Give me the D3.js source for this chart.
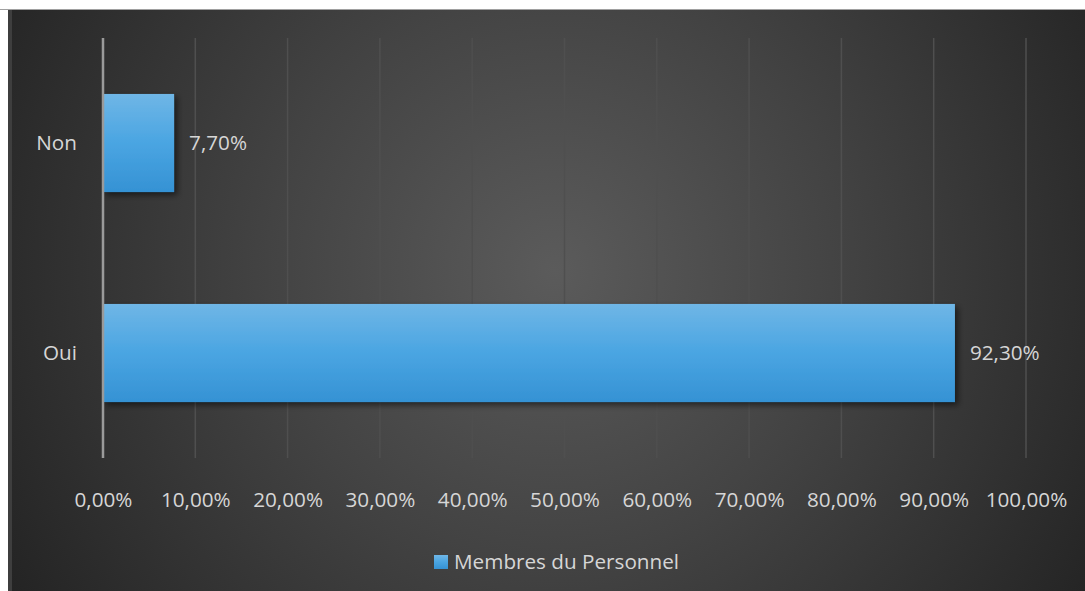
<!DOCTYPE html>
<html>
<head>
<meta charset="utf-8">
<script src="https://cdn.jsdelivr.net/npm/d3@7"></script>
<style>
  html, body { margin: 0; padding: 0; background: #ffffff; }
  svg { display: block; }
</style>
</head>
<body>
<svg id="chart" width="1085" height="591"></svg>
<script>
// Survey answers for staff members
const categories = ["Non", "Oui"];
const values = [7.7, 92.3];
const valueLabels = ["7,70%", "92,30%"];
const tickValues = [0, 10, 20, 30, 40, 50, 60, 70, 80, 90, 100];
const tickLabels = ["0,00%", "10,00%", "20,00%", "30,00%", "40,00%", "50,00%", "60,00%", "70,00%", "80,00%", "90,00%", "100,00%"];
const seriesName = "Membres du Personnel";

const W = 1085, H = 591;
const svg = d3.select("#chart");
const font = "'Open Sans', sans-serif";
const fontSize = 20.7;
const textColor = "#d6d6d6";

const defs = svg.append("defs");
const bg = defs.append("radialGradient").attr("id", "bgGrad")
  .attr("gradientUnits", "userSpaceOnUse")
  .attr("cx", 555).attr("cy", 270).attr("r", 640);
bg.append("stop").attr("offset", "0").attr("stop-color", "#5b5b5b");
bg.append("stop").attr("offset", "0.45").attr("stop-color", "#434343");
bg.append("stop").attr("offset", "1").attr("stop-color", "#232323");

const barGrad = defs.append("linearGradient").attr("id", "barGrad")
  .attr("x1", 0).attr("y1", 0).attr("x2", 0).attr("y2", 1);
barGrad.append("stop").attr("offset", "0").attr("stop-color", "#6fb6e6");
barGrad.append("stop").attr("offset", "0.5").attr("stop-color", "#4aa5e2");
barGrad.append("stop").attr("offset", "1").attr("stop-color", "#3592d4");

const shadow = defs.append("filter").attr("id", "shadow")
  .attr("x", "-10%").attr("y", "-10%").attr("width", "130%").attr("height", "140%");
shadow.append("feDropShadow").attr("dx", 3).attr("dy", 3).attr("stdDeviation", 3)
  .attr("flood-color", "#000").attr("flood-opacity", 0.55);

// Chart area background and frame
svg.append("rect").attr("x", 0).attr("y", 9).attr("width", W).attr("height", 1).attr("fill", "#a0a0a0");
svg.append("rect").attr("x", 8).attr("y", 10).attr("width", W - 8).attr("height", H - 10).attr("fill", "#3e3e3e");
svg.append("rect").attr("x", 12).attr("y", 10).attr("width", W - 12).attr("height", H - 10).attr("fill", "url(#bgGrad)");

const plot = { left: 103, right: 1026, top: 38, bottom: 458 };

const x = d3.scaleLinear().domain([0, 100]).range([plot.left, plot.right]);
const y = d3.scaleBand().domain(categories).range([plot.top, plot.bottom])
  .paddingInner(0.533).paddingOuter(0.2665);

// Vertical gridlines
svg.append("g").selectAll("line").data(tickValues.slice(1)).join("line")
  .attr("x1", d => x(d)).attr("x2", d => x(d))
  .attr("y1", plot.top).attr("y2", plot.bottom)
  .attr("stroke", "#4f4f4f").attr("stroke-width", 1.5);

// Bars
svg.append("g").selectAll("rect").data(categories).join("rect")
  .attr("x", x(0))
  .attr("y", d => y(d))
  .attr("width", (d, i) => x(values[i]) - x(0))
  .attr("height", y.bandwidth())
  .attr("fill", "url(#barGrad)")
  .attr("filter", "url(#shadow)");

// Category axis line
svg.append("line")
  .attr("x1", x(0)).attr("x2", x(0))
  .attr("y1", plot.top).attr("y2", plot.bottom)
  .attr("stroke", "#9a9a9a").attr("stroke-width", 2.5);

// Value axis tick labels
const xAxis = d3.axisBottom(x).tickValues(tickValues)
  .tickFormat((d, i) => tickLabels[i]).tickSize(0).tickPadding(0);
const gx = svg.append("g").attr("transform", `translate(0,${plot.bottom})`).call(xAxis);
gx.select(".domain").remove();
gx.selectAll("text")
  .attr("y", 42).attr("dy", "0.35em")
  .attr("fill", textColor).attr("font-family", font).attr("font-size", fontSize);

// Category labels
const yAxis = d3.axisLeft(y).tickSize(0).tickPadding(26);
const gy = svg.append("g").attr("transform", `translate(${plot.left},0)`).call(yAxis);
gy.select(".domain").remove();
gy.selectAll("text")
  .attr("fill", textColor).attr("font-family", font).attr("font-size", fontSize);

// Value labels
svg.append("g").selectAll("text").data(categories).join("text")
  .attr("x", (d, i) => x(values[i]) + 15)
  .attr("y", d => y(d) + y.bandwidth() / 2)
  .attr("dy", "0.35em")
  .attr("fill", textColor).attr("font-family", font).attr("font-size", fontSize)
  .text((d, i) => valueLabels[i]);

// Legend
const legend = svg.append("g").attr("transform", "translate(434,555)");
legend.append("rect").attr("width", 14).attr("height", 14).attr("fill", "url(#barGrad)");
legend.append("text").attr("x", 20).attr("y", 7).attr("dy", "0.35em")
  .attr("fill", textColor).attr("font-family", font).attr("font-size", fontSize)
  .text(seriesName);
</script>
</body>
</html>
